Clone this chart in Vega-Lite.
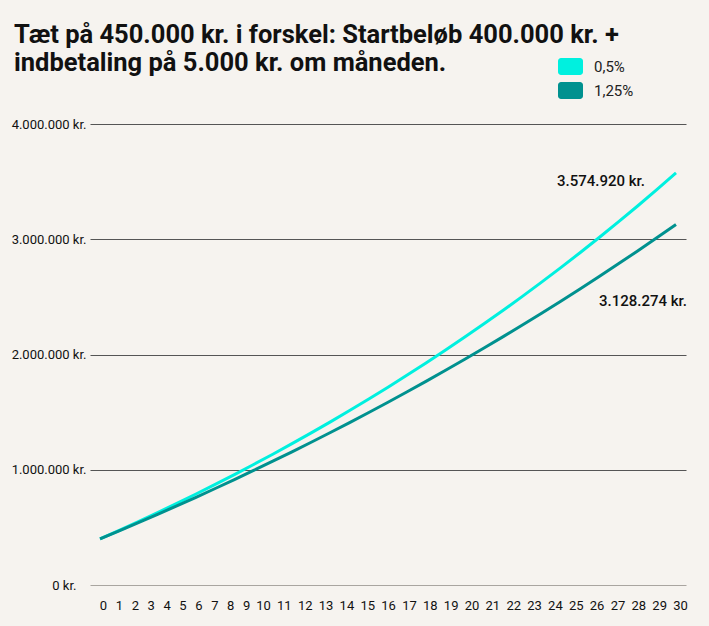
{
  "$schema": "https://vega.github.io/schema/vega-lite/v6.json",
  "width": 596,
  "height": 461,
  "autosize": {"type": "none"},
  "padding": {"left": 90, "top": 124, "right": 23, "bottom": 41},
  "background": "#f6f3ef",
  "config": {
    "locale": {"number": {"decimal": ",", "thousands": ".", "grouping": [3], "currency": ["", " kr."]}},
    "view": {"stroke": null},
    "font": "Roboto"
  },
  "title": {
    "text": ["Tæt på 450.000 kr. i forskel: Startbeløb 400.000 kr. +", "indbetaling på 5.000 kr. om måneden."],
    "anchor": "start",
    "frame": "group",
    "dx": -76,
    "offset": 0,
    "dy": 42,
    "baseline": "alphabetic",
    "fontSize": 25.5,
    "fontWeight": "bold",
    "color": "#111111",
    "lineHeight": 27.5
  },
  "data": {
    "values": [
      {"year": 0, "series": "0,5%", "value": 400000},
      {"year": 1, "series": "0,5%", "value": 474300},
      {"year": 2, "series": "0,5%", "value": 550400},
      {"year": 3, "series": "0,5%", "value": 628200},
      {"year": 4, "series": "0,5%", "value": 707900},
      {"year": 5, "series": "0,5%", "value": 789400},
      {"year": 6, "series": "0,5%", "value": 872800},
      {"year": 7, "series": "0,5%", "value": 958100},
      {"year": 8, "series": "0,5%", "value": 1045400},
      {"year": 9, "series": "0,5%", "value": 1134800},
      {"year": 10, "series": "0,5%", "value": 1226300},
      {"year": 11, "series": "0,5%", "value": 1319800},
      {"year": 12, "series": "0,5%", "value": 1415600},
      {"year": 13, "series": "0,5%", "value": 1513500},
      {"year": 14, "series": "0,5%", "value": 1613800},
      {"year": 15, "series": "0,5%", "value": 1716400},
      {"year": 16, "series": "0,5%", "value": 1821300},
      {"year": 17, "series": "0,5%", "value": 1928700},
      {"year": 18, "series": "0,5%", "value": 2038600},
      {"year": 19, "series": "0,5%", "value": 2151100},
      {"year": 20, "series": "0,5%", "value": 2266200},
      {"year": 21, "series": "0,5%", "value": 2383900},
      {"year": 22, "series": "0,5%", "value": 2504400},
      {"year": 23, "series": "0,5%", "value": 2627700},
      {"year": 24, "series": "0,5%", "value": 2753900},
      {"year": 25, "series": "0,5%", "value": 2883000},
      {"year": 26, "series": "0,5%", "value": 3015100},
      {"year": 27, "series": "0,5%", "value": 3150300},
      {"year": 28, "series": "0,5%", "value": 3288600},
      {"year": 29, "series": "0,5%", "value": 3430200},
      {"year": 30, "series": "0,5%", "value": 3574920},
      {"year": 0, "series": "1,25%", "value": 400000},
      {"year": 1, "series": "1,25%", "value": 469800},
      {"year": 2, "series": "1,25%", "value": 540700},
      {"year": 3, "series": "1,25%", "value": 613000},
      {"year": 4, "series": "1,25%", "value": 686500},
      {"year": 5, "series": "1,25%", "value": 761300},
      {"year": 6, "series": "1,25%", "value": 837400},
      {"year": 7, "series": "1,25%", "value": 914900},
      {"year": 8, "series": "1,25%", "value": 993800},
      {"year": 9, "series": "1,25%", "value": 1074000},
      {"year": 10, "series": "1,25%", "value": 1155700},
      {"year": 11, "series": "1,25%", "value": 1238800},
      {"year": 12, "series": "1,25%", "value": 1323300},
      {"year": 13, "series": "1,25%", "value": 1409400},
      {"year": 14, "series": "1,25%", "value": 1496900},
      {"year": 15, "series": "1,25%", "value": 1586100},
      {"year": 16, "series": "1,25%", "value": 1676800},
      {"year": 17, "series": "1,25%", "value": 1769100},
      {"year": 18, "series": "1,25%", "value": 1863000},
      {"year": 19, "series": "1,25%", "value": 1958600},
      {"year": 20, "series": "1,25%", "value": 2055800},
      {"year": 21, "series": "1,25%", "value": 2154800},
      {"year": 22, "series": "1,25%", "value": 2255500},
      {"year": 23, "series": "1,25%", "value": 2358100},
      {"year": 24, "series": "1,25%", "value": 2462400},
      {"year": 25, "series": "1,25%", "value": 2568500},
      {"year": 26, "series": "1,25%", "value": 2676600},
      {"year": 27, "series": "1,25%", "value": 2786500},
      {"year": 28, "series": "1,25%", "value": 2898400},
      {"year": 29, "series": "1,25%", "value": 3012300},
      {"year": 30, "series": "1,25%", "value": 3128274}
    ]
  },
  "encoding": {
    "x": {
      "field": "year",
      "type": "quantitative",
      "scale": {"domain": [-0.521, 30.521], "nice": false, "zero": false},
      "axis": {
        "title": null,
        "values": [0,1,2,3,4,5,6,7,8,9,10,11,12,13,14,15,16,17,18,19,20,21,22,23,24,25,26,27,28,29,30],
        "format": "d",
        "grid": false,
        "domain": false,
        "ticks": false,
        "labelPadding": 14,
        "labelOffset": {"expr": "datum.value < 10 ? 3 - 3.3 * datum.value : -45.5 + 1.65 * datum.value"},
        "labelFontSize": 13,
        "labelColor": "#111111",
        "labelOverlap": false,
        "labelFlush": false
      }
    },
    "y": {
      "field": "value",
      "type": "quantitative",
      "scale": {"domain": [0, 4000000], "nice": false},
      "axis": {
        "title": null,
        "values": [0, 1000000, 2000000, 3000000, 4000000],
        "format": "$,d",
        "grid": true,
        "gridColor": {"condition": {"test": "datum.value === 0", "value": "#a9a5a0"}, "value": "#555555"},
        "gridWidth": 1.2,
        "domain": false,
        "ticks": false,
        "labelPadding": {"condition": {"test": "datum.value === 0", "value": 14}, "value": 4},
        "labelFontSize": 13,
        "labelColor": "#111111"
      }
    }
  },
  "layer": [
    {
      "mark": {"type": "line", "strokeWidth": 3, "interpolate": "monotone"},
      "encoding": {
        "color": {
          "field": "series",
          "type": "nominal",
          "scale": {"domain": ["0,5%", "1,25%"], "range": ["#00f0df", "#00918f"]},
          "legend": {
            "title": null,
            "orient": "none",
            "legendX": 468,
            "legendY": -70,
            "padding": 0,
            "symbolType": "M -0.76,-0.68 L 0.76,-0.68 A 0.24,0.24 0 0 1 1,-0.44 L 1,0.44 A 0.24,0.24 0 0 1 0.76,0.68 L -0.76,0.68 A 0.24,0.24 0 0 1 -1,0.44 L -1,-0.44 A 0.24,0.24 0 0 1 -0.76,-0.68 Z",
            "symbolSize": 625,
            "symbolStrokeWidth": 0,
            "symbolOpacity": 1,
            "rowPadding": 3,
            "labelOffset": 11,
            "labelFontSize": 15,
            "labelColor": "#222222",
            "encode": {
              "symbols": {
                "update": {
                  "fill": {"scale": "color", "field": "value"},
                  "strokeWidth": {"value": 0}
                }
              }
            }
          }
        }
      }
    },
    {
      "transform": [{"filter": "datum.year === 30 && datum.series === '0,5%'"}],
      "mark": {"type": "text", "align": "right", "baseline": "middle", "dx": -31, "dy": 8.5, "fontSize": 15, "fontWeight": 500, "color": "#111111"},
      "encoding": {"text": {"field": "value", "type": "quantitative", "format": "$,d"}}
    },
    {
      "transform": [{"filter": "datum.year === 30 && datum.series === '1,25%'"}],
      "mark": {"type": "text", "align": "right", "baseline": "middle", "dx": 11, "dy": 76.5, "fontSize": 15, "fontWeight": 500, "color": "#111111"},
      "encoding": {"text": {"field": "value", "type": "quantitative", "format": "$,d"}}
    }
  ]
}
